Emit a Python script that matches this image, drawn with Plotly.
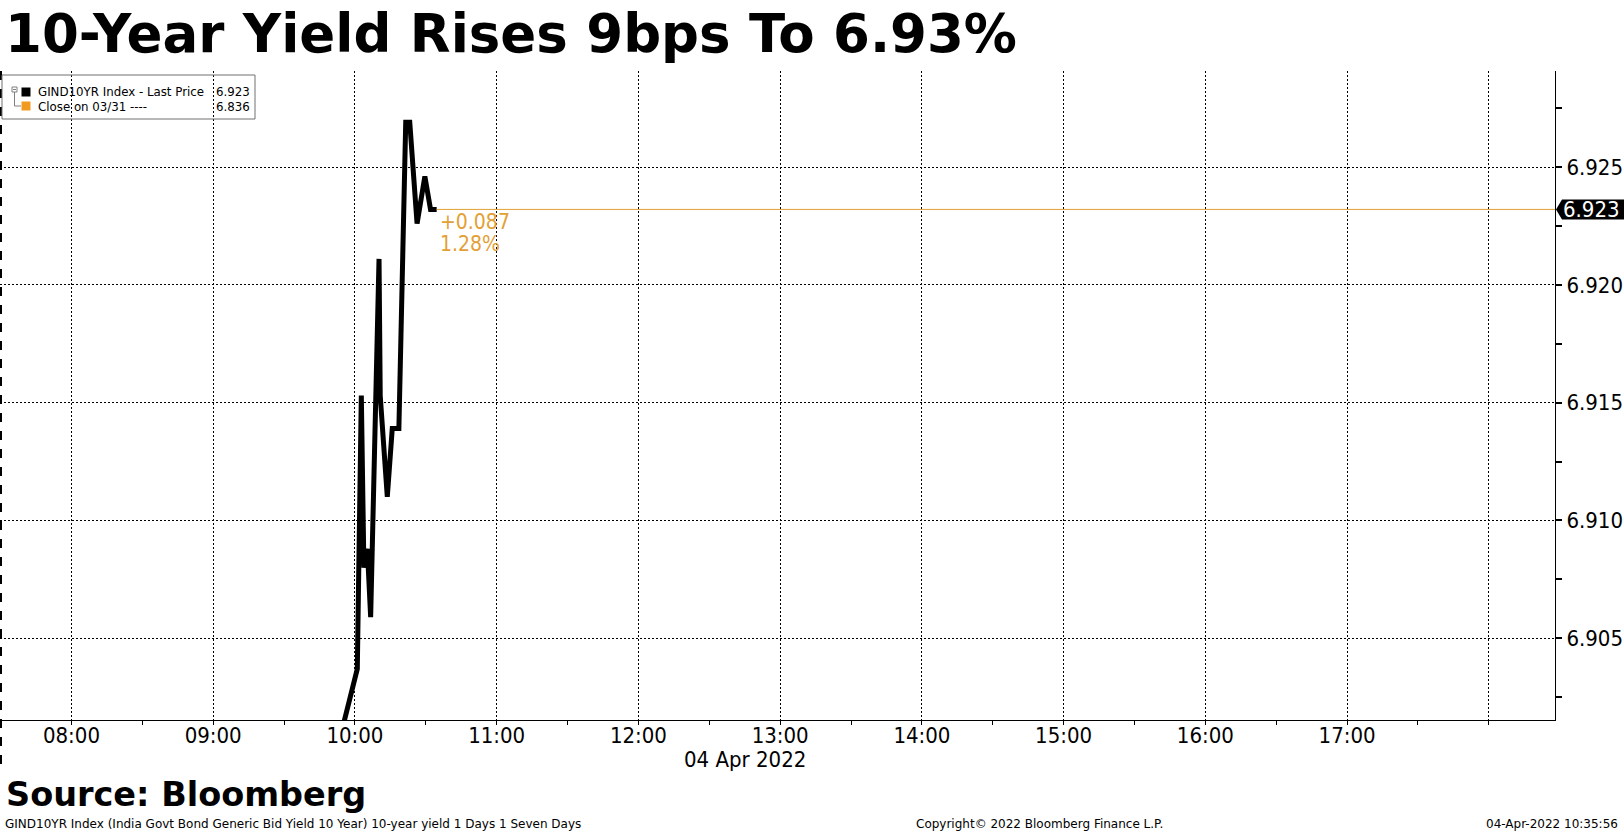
import plotly.graph_objects as go

# ---------------- data ----------------
times = [
    "2022-04-04 09:54:00", "2022-04-04 10:01:00", "2022-04-04 10:02:42",
    "2022-04-04 10:03:48", "2022-04-04 10:05:15", "2022-04-04 10:06:39",
    "2022-04-04 10:10:12", "2022-04-04 10:10:42", "2022-04-04 10:13:42",
    "2022-04-04 10:15:48", "2022-04-04 10:18:36", "2022-04-04 10:21:30",
    "2022-04-04 10:23:12", "2022-04-04 10:26:18", "2022-04-04 10:29:36",
    "2022-04-04 10:32:00", "2022-04-04 10:34:36",
]
yields = [
    6.9009, 6.9037, 6.9153, 6.9080, 6.9088, 6.9059, 6.9211, 6.9153, 6.9110,
    6.9139, 6.9139, 6.9269, 6.9269, 6.9226, 6.9246, 6.9232, 6.9232,
]
last_price = yields[-1]
prev_close = 6.836
change_txt = "+0.087"
pct_txt = "1.28%"
hour_ticks = ["2022-04-04 %02d:00" % h for h in range(8, 19)]
hour_labels = ["%02d:00" % h for h in range(8, 18)] + [""]
y_ticks = [6.905, 6.910, 6.915, 6.920, 6.925]
y_labels = ["6.905", "6.910", "6.915", "6.920", "6.925"]
x_range = ["2022-04-04 07:29:45", "2022-04-04 18:28:00"]
y_range = [6.901533, 6.929074]

title_txt = "10-Year Yield Rises 9bps To 6.93%"
source_txt = "Source: Bloomberg"
footer_left = "GIND10YR Index (India Govt Bond Generic Bid Yield 10 Year) 10-year yield 1 Days 1 Seven Days"
footer_mid = "Copyright\u00a9 2022 Bloomberg Finance L.P."
footer_right = "04-Apr-2022 10:35:56"
date_label = "04 Apr 2022"
legend_rows = [("GIND10YR Index - Last Price", "%.3f" % last_price),
               ("Close on 03/31 ----", "%.3f" % prev_close)]

# ---------------- layout geometry ----------------
W, H = 1624, 835
L, R, T, B = 0, 1555, 71, 720
FONT = "DejaVu Sans Condensed, Liberation Sans Narrow, DejaVu Sans, sans-serif"
FONT_W = "DejaVu Sans, sans-serif"
ORANGE = "#E3A035"
PX_PER_UNIT = (B - T) / (y_range[1] - y_range[0])


def px(x):
    return (x - L) / (R - L)


def py(y):
    return (B - y) / (B - T)


def vy(value):
    """pixel row of a data value"""
    return B - (value - y_range[0]) * PX_PER_UNIT


fig = go.Figure()
fig.add_trace(go.Scatter(x=times, y=yields, mode="lines",
                         line=dict(color="black", width=5),
                         hoverinfo="skip", showlegend=False))
fig.add_trace(go.Scatter(x=[times[-1], x_range[1]], y=[last_price, last_price],
                         mode="lines", line=dict(color=ORANGE, width=1),
                         hoverinfo="skip", showlegend=False))

shapes = []
ann = []

# left dashed border
shapes.append(dict(type="line", xref="paper", yref="paper", x0=px(1), x1=px(1),
                   y0=py(71), y1=py(772), line=dict(color="black", width=2, dash="dash")))

# legend box
shapes.append(dict(type="rect", xref="paper", yref="paper", x0=px(2), x1=px(255),
                   y0=py(75), y1=py(119), line=dict(color="#707070", width=1)))
# tree glyph
shapes.append(dict(type="rect", xref="paper", yref="paper", x0=px(12), x1=px(17),
                   y0=py(87), y1=py(92), line=dict(color="#808080", width=1)))
shapes.append(dict(type="line", xref="paper", yref="paper", x0=px(13), x1=px(16),
                   y0=py(89.5), y1=py(89.5), line=dict(color="#808080", width=1)))
shapes.append(dict(type="line", xref="paper", yref="paper", x0=px(14.5), x1=px(14.5),
                   y0=py(92), y1=py(106), line=dict(color="#808080", width=1)))
shapes.append(dict(type="line", xref="paper", yref="paper", x0=px(14.5), x1=px(21),
                   y0=py(106), y1=py(106), line=dict(color="#808080", width=1)))
shapes.append(dict(type="rect", xref="paper", yref="paper", x0=px(21.5), x1=px(30.5),
                   y0=py(87.5), y1=py(96.5), fillcolor="black", line=dict(width=0)))
shapes.append(dict(type="rect", xref="paper", yref="paper", x0=px(21.5), x1=px(30.5),
                   y0=py(101.5), y1=py(110.5), fillcolor="#F29A1E", line=dict(width=0)))
for i, (lab, val) in enumerate(legend_rows):
    yc = 92.3 + i * 14.4
    ann.append(dict(text=lab, x=px(36), y=py(yc), xref="paper", yref="paper",
                    xanchor="left", yanchor="middle", showarrow=False,
                    font=dict(family=FONT_W, size=11.8, color="black")))
    ann.append(dict(text=val, x=px(252), y=py(yc), xref="paper", yref="paper",
                    xanchor="right", yanchor="middle", showarrow=False,
                    font=dict(family=FONT_W, size=11.8, color="black")))

# last price tag
yt = vy(last_price)
path = "M %f,%f L %f,%f L %f,%f L %f,%f L %f,%f Z" % (
    px(1556), py(yt), px(1562), py(yt - 10), px(1624), py(yt - 10),
    px(1624), py(yt + 10), px(1562), py(yt + 10))
shapes.append(dict(type="path", xref="paper", yref="paper", path=path,
                   fillcolor="black", line=dict(width=0)))
ann.append(dict(text="%.3f" % last_price, x=px(1592), y=py(yt + 0.5), xref="paper", yref="paper",
                xanchor="center", yanchor="middle", showarrow=False,
                font=dict(family=FONT, size=22, color="white")))

# change annotation
ann.append(dict(text=change_txt, x=times[-1], y=py(yt + 13), xref="x", yref="paper",
                xanchor="left", yanchor="middle", xshift=1, showarrow=False,
                font=dict(family=FONT, size=21, color=ORANGE)))
ann.append(dict(text=pct_txt, x=times[-1], y=py(yt + 35), xref="x", yref="paper",
                xanchor="left", yanchor="middle", xshift=1, showarrow=False,
                font=dict(family=FONT, size=21, color=ORANGE)))

# title / source / footer / date
ann.append(dict(text="<b>%s</b>" % title_txt, x=px(3), y=py(34), xref="paper", yref="paper",
                xanchor="left", yanchor="middle", showarrow=False,
                font=dict(family=FONT_W, size=53, color="black")))
ann.append(dict(text="<b>%s</b>" % source_txt, x=px(4), y=py(794), xref="paper", yref="paper",
                xanchor="left", yanchor="middle", showarrow=False,
                font=dict(family=FONT_W, size=33.5, color="black")))
ann.append(dict(text=footer_left, x=px(3), y=py(824), xref="paper", yref="paper",
                xanchor="left", yanchor="middle", showarrow=False,
                font=dict(family=FONT_W, size=12, color="black")))
ann.append(dict(text=footer_mid, x=px(914), y=py(824), xref="paper", yref="paper",
                xanchor="left", yanchor="middle", showarrow=False,
                font=dict(family=FONT_W, size=12, color="black")))
ann.append(dict(text=footer_right, x=px(1620), y=py(824), xref="paper", yref="paper",
                xanchor="right", yanchor="middle", showarrow=False,
                font=dict(family=FONT_W, size=12, color="black")))
ann.append(dict(text=date_label, x=px(745), y=py(759), xref="paper", yref="paper",
                xanchor="center", yanchor="middle", showarrow=False,
                font=dict(family=FONT, size=22, color="black")))

fig.update_layout(
    width=W, height=H,
    margin=dict(l=L, r=W - R, t=T, b=H - B, pad=0, autoexpand=False),
    paper_bgcolor="white", plot_bgcolor="white",
    showlegend=False,
    shapes=shapes, annotations=ann,
    xaxis=dict(type="date", range=x_range, tickvals=hour_ticks, ticktext=hour_labels,
               showgrid=True, gridcolor="black", gridwidth=1, griddash="2px,2px",
               showline=True, linecolor="black", linewidth=1, ticks="",
               ticklabelstandoff=-4,
               zeroline=False, fixedrange=True, automargin=False,
               tickfont=dict(family=FONT, size=22, color="black"),
               minor=dict(dtick=1800000, ticks="outside", ticklen=4, tickcolor="black",
                          showgrid=False)),
    yaxis=dict(side="right", range=y_range, tickvals=y_ticks, ticktext=y_labels,
               showgrid=True, gridcolor="black", gridwidth=1, griddash="2px,2px",
               showline=True, linecolor="black", linewidth=1,
               ticks="outside", ticklen=6, tickwidth=2, tickcolor="black",
               zeroline=False, fixedrange=True, automargin=False,
               tickfont=dict(family=FONT, size=22, color="black"),
               minor=dict(dtick=0.0025, tick0=6.9025, ticks="outside", ticklen=6,
                          tickcolor="black", showgrid=False)),
)

fig.write_html("out.html", config={"displayModeBar": False},
               post_script="document.body.style.margin='0';document.body.style.overflow='hidden';")
